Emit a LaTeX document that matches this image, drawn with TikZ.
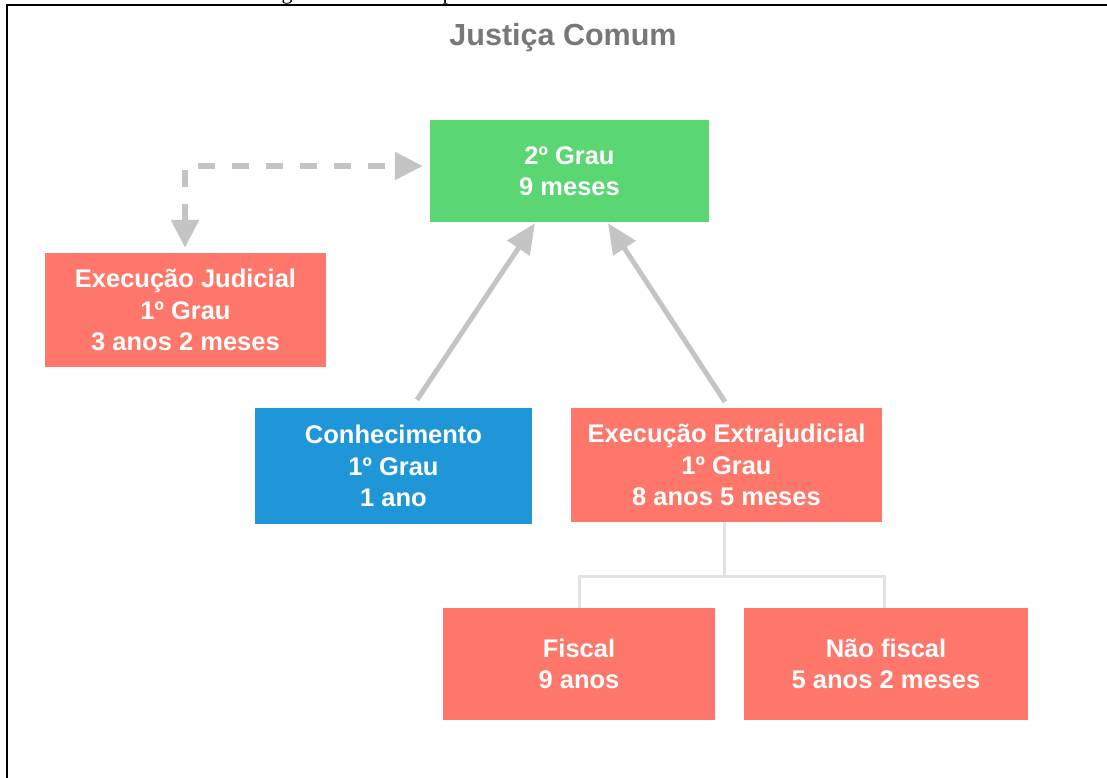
\documentclass[tikz,border=0pt]{standalone}
\usepackage{fontspec}
\setmainfont{Liberation Sans}
\newfontfamily\captionserif{Liberation Serif}
\usetikzlibrary{arrows.meta,calc}
\definecolor{boxgreen}{HTML}{5AD672}
\definecolor{boxred}{HTML}{FF776A}
\definecolor{boxblue}{HTML}{1E96D8}
\definecolor{arrowgray}{HTML}{C4C4C4}
\definecolor{treegray}{HTML}{E2E2E2}
\definecolor{titlegray}{HTML}{777777}
\begin{document}
\begin{tikzpicture}[x=1pt,y=-1pt,
  box/.style={rectangle, inner sep=0pt, text=white, align=center,
    font=\bfseries\fontsize{25.5}{31.5}\selectfont},
  greenbox/.style={box, fill=boxgreen},
  redbox/.style={box, fill=boxred},
  bluebox/.style={box, fill=boxblue},
  solidarrow/.style={draw=arrowgray, line width=5pt,
    -{Triangle[length=30pt,width=26pt]}},
  dasharrow/.style={draw=arrowgray, line width=5.5pt,
    dash pattern=on 17pt off 17pt,
    {Triangle[length=28pt,width=27pt]}-{Triangle[length=28pt,width=27pt]}},
  treeline/.style={draw=treegray, line width=3pt},
  frameline/.style={draw=black, line width=2.5pt},
  titletext/.style={text=titlegray, font=\bfseries\fontsize{30.5}{36}\selectfont, inner sep=0pt},
  cuttext/.style={inner sep=0pt, anchor=base, font=\captionserif\fontsize{22}{26}\selectfont}
]
\useasboundingbox (0,0) rectangle (1107,778);
\fill[white] (0,0) rectangle (1107,778);

% clipped fragments of a caption above the frame
\begin{scope}
  \clip (0,0) rectangle (1107,5);
  \node[cuttext] (cutg) at (287,-0.5) {g};
  \node[cuttext] (cutp) at (448,-0.5) {p};
\end{scope}

\draw[frameline] (7,778) -- (7,5) -- (1107,5);

\node[titletext, anchor=base] (title) at (563,46) {Justiça Comum};

\node[greenbox, minimum width=279pt, minimum height=102pt] (grau2) at (569.5,171)
  {2º Grau\\9 meses};
\node[redbox, minimum width=281pt, minimum height=114pt] (judicial) at (185.5,310)
  {Execução Judicial\\1º Grau\\3 anos 2 meses};
\node[bluebox, minimum width=277pt, minimum height=116pt] (conhec) at (393.5,466)
  {Conhecimento\\1º Grau\\1 ano};
\node[redbox, minimum width=311pt, minimum height=114pt] (extra) at (726.5,465)
  {Execução Extrajudicial\\1º Grau\\8 anos 5 meses};
\node[redbox, minimum width=272pt, minimum height=112pt] (fiscal) at (579,664)
  {Fiscal\\9 anos};
\node[redbox, minimum width=284pt, minimum height=112pt] (naofiscal) at (886,664)
  {Não fiscal\\5 anos 2 meses};

% solid arrows to 2o grau
\draw[solidarrow] ($(conhec.north)+(23.5,-8)$) -- ($(grau2.south)+(-34.5,1)$);
\draw[solidarrow] ($(extra.north)+(-1.5,-6)$) -- ($(grau2.south)+(38.5,1)$);

% dashed double arrow
\draw[dasharrow] ($(judicial.north)+(-0.5,-5)$) |- ($(grau2.west)+(-7,-5)$);

% tree connector
\coordinate (branch) at ($(extra.south)+(-2,54)$);
\draw[treeline] ($(extra.south)+(-2,0)$) -- (branch);
\draw[treeline] (branch) -| (fiscal.north);
\draw[treeline] (branch) -| ($(naofiscal.north)+(-2,0)$);
\end{tikzpicture}
\end{document}
